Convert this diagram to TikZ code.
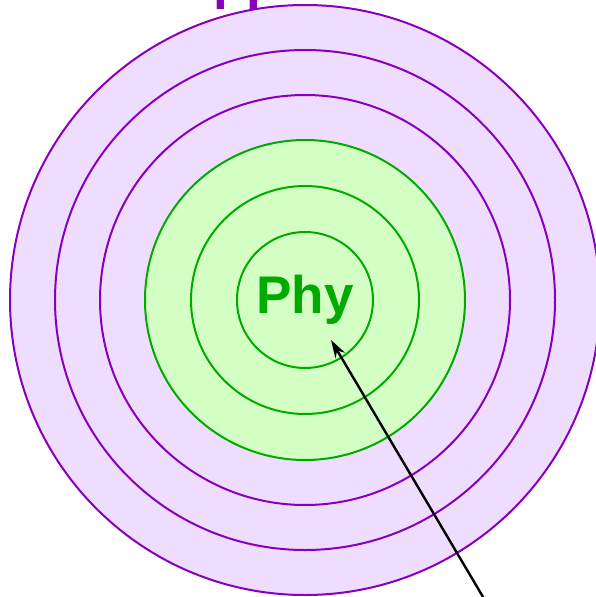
\documentclass[tikz,border=0pt]{standalone}
\usepackage{fontspec}
\setmainfont{Liberation Sans}
\usetikzlibrary{arrows.meta}
\definecolor{lPurple}{RGB}{136,0,190}
\definecolor{lLilac}{RGB}{238,221,255}
\definecolor{lGreen}{RGB}{0,170,0}
\definecolor{lMint}{RGB}{212,255,196}

\begin{document}
\begin{tikzpicture}[
  x=1pt, y=-1pt,
  layer/.style={circle, draw, line width=2pt, inner sep=0pt, minimum size=#1},
  outer/.style={layer=#1, draw=lPurple, fill=lLilac},
  inner/.style={layer=#1, draw=lGreen, fill=lMint},
  title/.style={font=\fontsize{53}{53}\selectfont\bfseries, anchor=base},
  arrow/.style={-{Stealth[length=18pt, width=11pt]}, line width=2.4pt, black}
]
  \useasboundingbox (0,0) rectangle (596,597);
  \coordinate (c) at (305,300);
  % layers, outermost first
  \foreach \r/\n in {295/l6, 250/l5, 205/l4}
    \node[outer=2*\r pt] (\n) at (c) {};
  \foreach \r/\n in {160/l3, 114/l2, 68/l1}
    \node[inner=2*\r pt] (\n) at (c) {};
  \node[title, text=lGreen] (phy) at (305,313) {Phy};
  \node[title, text=lPurple] (app) at (320,-1.5) {Application};
  \coordinate (tail) at (486,602);
  \coordinate (tip) at (331,340);
  \draw[arrow] (tail) -- (tip);
\end{tikzpicture}
\end{document}
